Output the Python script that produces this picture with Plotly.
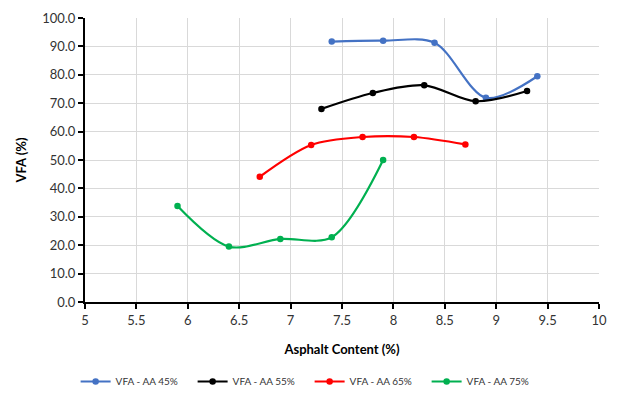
import plotly.graph_objects as go

x45 = [7.4, 7.9, 8.4, 8.9, 9.4]
y45 = [91.7, 92.0, 91.3, 71.9, 79.5]
x55 = [7.3, 7.8, 8.3, 8.8, 9.3]
y55 = [68.0, 73.6, 76.3, 70.7, 74.3]
x65 = [6.7, 7.2, 7.7, 8.2, 8.7]
y65 = [44.1, 55.3, 58.1, 58.1, 55.5]
x75 = [5.9, 6.4, 6.9, 7.4, 7.9]
y75 = [33.8, 19.5, 22.2, 22.8, 50.0]

series = [
    ("VFA - AA 45%", x45, y45, "#4472C4"),
    ("VFA - AA 55%", x55, y55, "#000000"),
    ("VFA - AA 65%", x65, y65, "#FF0000"),
    ("VFA - AA 75%", x75, y75, "#00B050"),
]

FONT = "Lato, Carlito, Calibri, sans-serif"

fig = go.Figure()
for name, xs, ys, c in series:
    fig.add_trace(go.Scatter(
        x=xs, y=ys, name=name, mode="lines+markers",
        line=dict(color=c, width=2.2, shape="spline", smoothing=0.9),
        marker=dict(color=c, size=6.5),
    ))

# page body has an 8px default margin; compensate so the plot lands where the reference's does
fig.update_layout(
    width=609, height=395,
    margin=dict(l=77, r=18, t=10, b=101, autoexpand=False),
    paper_bgcolor="white", plot_bgcolor="white",
    font=dict(family=FONT, color="#333333", size=12),
    showlegend=True,
    legend=dict(orientation="h", x=0.437, xanchor="center", y=-0.28, yanchor="middle",
                font=dict(size=10, color="#333333"), itemwidth=30,
                entrywidth=72, entrywidthmode="pixels", tracegroupgap=0),
    xaxis=dict(
        range=[5, 10], tickmode="array", tickvals=[5, 5.5, 6, 6.5, 7, 7.5, 8, 8.5, 9, 9.5, 10],
        ticktext=["5", "5.5", "6", "6.5", "7", "7.5", "8", "8.5", "9", "9.5", "10"],
        showgrid=True, gridcolor="#D9D9D9", gridwidth=1,
        showline=True, linecolor="#000000", linewidth=2,
        ticks="outside", ticklen=5, tickcolor="#000000", tickwidth=2,
        zeroline=False, tickfont=dict(size=13, color="#333333"), automargin=False,
        title=dict(text="<b>Asphalt Content (%)</b>", font=dict(size=13, color="#000000"), standoff=18),
    ),
    yaxis=dict(
        range=[0, 100], tickmode="array", tickvals=list(range(0, 101, 10)),
        ticktext=[f"{v:.1f}" for v in range(0, 101, 10)],
        showgrid=True, gridcolor="#D9D9D9", gridwidth=1,
        showline=True, linecolor="#000000", linewidth=2,
        ticks="outside", ticklen=5, tickcolor="#000000", tickwidth=2,
        zeroline=False, tickfont=dict(size=13, color="#333333"), automargin=False,
        title=dict(text="<b>VFA (%)</b>", font=dict(size=13, color="#000000"), standoff=13),
    ),
)
fig.add_shape(type="line", xref="paper", yref="paper", x0=-0.2, x1=1.05, y0=1.053, y1=1.053,
              line=dict(color="#E0E0E0", width=1))
fig.write_html("out.html")
